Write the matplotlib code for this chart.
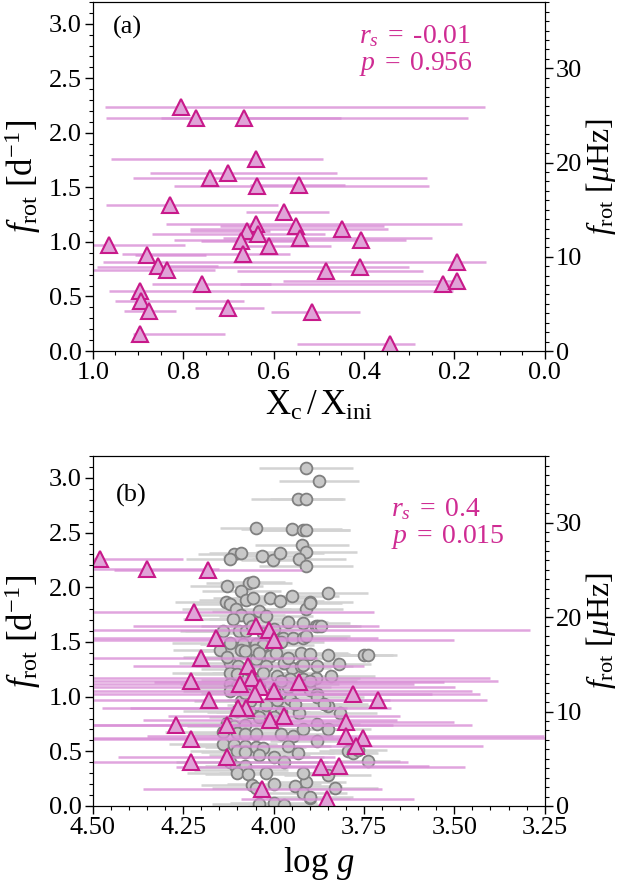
import numpy as np
import matplotlib.pyplot as plt
from matplotlib.ticker import MultipleLocator

plt.rcParams['font.family'] = 'Liberation Serif'
plt.rcParams['mathtext.fontset'] = 'custom'
plt.rcParams['mathtext.rm'] = 'Liberation Serif'
plt.rcParams['mathtext.it'] = 'Liberation Serif:italic'
plt.rcParams['mathtext.bf'] = 'Liberation Serif:bold'

DUHZ = 1e6 / 86400.  # d^-1 -> muHz

# ---- panel (a): Xc/Xini vs f_rot (stars) ----
xc = [0.804, 0.771, 0.666, 0.638, 0.700, 0.741, 0.637, 0.544, 0.830, 0.576,
      0.638, 0.551, 0.448, 0.658, 0.634, 0.542, 0.406, 0.673, 0.964, 0.610,
      0.880, 0.667, 0.855, 0.836, 0.194, 0.483, 0.409, 0.758, 0.225, 0.195,
      0.896, 0.894, 0.876, 0.702, 0.514, 0.896, 0.343]
frot_a = [2.236, 2.14, 2.14, 1.76, 1.63, 1.59, 1.51, 1.52, 1.34, 1.27,
          1.16, 1.145, 1.12, 1.10, 1.07, 1.04, 1.015, 1.01, 0.973, 0.963,
          0.88, 0.888, 0.78, 0.745, 0.82, 0.736, 0.773, 0.615, 0.615, 0.64,
          0.548, 0.457, 0.366, 0.397, 0.357, 0.155, 0.064]
# ends of the error intervals (higher Xc, lower Xc)
xc_hi = [0.973, 0.970, 0.85, 0.959, 0.874, 0.911, 0.82, 0.653, 0.970, 0.661,
         0.838, 0.719, 0.785, 0.785, 0.870, 0.712, 0.82, 0.76, 1.00, 0.664,
         0.906, 0.936, 0.870, 1.00, 0.978, 0.681, 0.99, 0.87, 0.675, 0.58,
         0.964, 0.95, 0.93, 0.774, 0.606, 0.911, 0.549]
xc_lo = [0.133, 0.170, 0.45, 0.491, 0.459, 0.26, 0.257, 0.442, 0.591, 0.477,
         0.184, 0.356, 0.347, 0.607, 0.487, 0.25, 0.306, 0.55, 0.796, 0.474,
         0.75, 0.563, 0.723, 0.73, 0.13, 0.269, 0.30, 0.605, 0.21, 0.19,
         0.204, 0.665, 0.815, 0.622, 0.408, 0.708, 0.286]

# ---- panel (b): log g vs f_rot ----
logg_star = [4.481, 4.35, 4.181, 4.221, 4.049, 4.012, 4.0, 4.16, 4.2, 4.07,
             4.06, 4.229, 4.092, 4.038, 3.93, 4.0, 4.052, 3.78, 3.711, 4.178,
             4.075, 4.098, 4.01, 3.971, 3.801, 4.269, 4.13, 3.801, 3.753, 4.229,
             3.771, 4.13, 4.229, 3.87, 3.82, 4.031, 3.851]
frot_b = [2.26, 2.17, 2.155, 1.77, 1.645, 1.61, 1.52, 1.54, 1.35, 1.28,
          1.17, 1.147, 1.12, 1.09, 1.13, 1.05, 1.02, 1.02, 0.97, 0.97,
          0.896, 0.896, 0.79, 0.82, 0.765, 0.74, 0.74, 0.636, 0.62, 0.61,
          0.545, 0.45, 0.40, 0.355, 0.37, 0.153, 0.06]
logg_star_err = [0.23, 0.20, 0.26, 0.50, 0.34, 0.72, 0.50, 0.45, 0.32, 0.32,
                 0.66, 0.85, 0.48, 0.54, 0.40, 0.55, 0.49, 0.35, 0.30, 0.50,
                 0.40, 0.30, 0.35, 0.32, 0.30, 0.60, 0.68, 0.55, 0.80, 0.45,
                 0.35, 0.30, 0.60, 0.40, 0.25, 0.33, 0.24]

# comparison sample (grey)
logg_ref = [3.909, 3.874, 3.932, 3.909, 4.049, 3.95, 3.92, 3.91, 3.921, 3.909,
            4.11, 4.089, 4.121, 4.031, 4.001, 3.981, 3.93, 3.909,
            4.13, 4.068, 4.058, 4.089, 3.95, 4.01, 3.981, 4.132, 4.121, 4.075,
            4.057, 3.90, 3.909, 4.04, 4.103, 4.089, 4.112, 4.068, 3.918, 3.882,
            4.14, 4.095, 4.075, 4.03, 3.974, 3.946, 3.918, 4.121, 4.084, 4.049,
            4.029, 4.149, 4.089, 4.052, 4.01, 3.992, 3.923, 4.121, 4.098, 4.02,
            3.95, 3.923, 4.12, 4.10, 4.03, 3.99, 3.955, 3.918, 3.849, 3.90,
            3.877, 3.868, 3.91, 3.849, 3.75, 3.739, 3.918, 3.882, 3.84, 4.06,
            4.00, 3.96, 4.02, 3.98, 4.05, 4.13, 4.07, 3.97,
            4.12, 4.10, 4.06, 4.04, 4.09, 4.065, 3.99, 3.955, 4.10, 4.065,
            4.03, 3.98, 3.93, 4.04, 4.00, 4.13, 4.11, 4.08, 3.98, 3.945,
            4.14, 4.10, 4.08, 4.05, 4.14, 4.11, 4.08, 4.05, 4.03, 4.10,
            4.08, 4.04, 3.932, 4.12, 4.105, 4.09, 4.08, 4.10, 4.07, 4.02,
            3.909, 4.06, 4.05, 3.94, 3.918, 3.90, 4.04, 4.00, 3.97, 3.90,
            3.88, 3.88, 3.849, 3.815, 3.88, 3.88, 3.794, 3.78, 3.766, 3.739,
            3.83, 3.90, 4.08, 4.04, 3.96, 3.90, 4.12, 4.08, 4.00, 3.96,
            3.93, 3.90, 3.86, 3.94, 4.02, 4.06, 3.98, 3.88, 3.82, 3.85,
            3.92, 3.96, 4.00, 3.97, 3.92, 3.85, 4.00]
frot_ref = [3.095, 2.97, 2.81, 2.81, 2.54, 2.53, 2.52, 2.52, 2.39, 2.32,
            2.30, 2.31, 2.26, 2.29, 2.25, 2.31, 2.26, 2.19,
            2.01, 2.04, 2.05, 1.97, 1.92, 1.90, 1.87, 1.865, 1.85, 1.88,
            1.90, 1.865, 1.80, 1.78, 1.80, 1.75, 1.71, 1.71, 1.675, 1.645,
            1.60, 1.60, 1.60, 1.585, 1.54, 1.54, 1.54, 1.49, 1.48, 1.48,
            1.47, 1.43, 1.43, 1.43, 1.37, 1.40, 1.40, 1.31, 1.28, 1.28,
            1.26, 1.28, 1.22, 1.21, 1.22, 1.19, 1.16, 1.16, 1.945, 1.86,
            1.645, 1.645, 1.55, 1.385, 1.385, 1.385, 1.29, 1.17, 1.186, 1.65,
            1.62, 1.68, 1.74, 1.50, 1.34, 1.36, 1.25, 1.31,
            1.12, 1.10, 1.08, 1.10, 0.96, 0.96, 0.97, 0.98, 0.87, 0.86,
            0.86, 0.86, 0.85, 0.81, 0.81, 0.76, 0.73, 0.74, 0.66, 0.64,
            0.68, 0.67, 0.66, 0.66, 0.57, 0.56, 0.55, 0.54, 0.53, 0.50,
            0.49, 0.47, 0.48, 0.40, 0.36, 0.33, 0.37, 0.30, 0.29, 0.30,
            0.217, 0.19, 0.16, 0.18, 0.12, 0.07, 0.02, 0.03, 0.01, 1.06,
            1.02, 1.00, 0.91, 0.85, 0.75, 0.59, 0.50, 0.48, 0.51, 0.41,
            0.16, 0.085, 1.42, 1.40, 1.35, 1.39, 1.05, 1.03, 1.05, 1.09,
            1.12, 1.14, 0.93, 0.93, 0.92, 1.15, 1.14, 1.28, 1.30, 0.70,
            0.70, 0.55, 0.45, 0.40, 0.30, 0.28, 0.20]
logg_ref_err = [0.13, 0.11, 0.13, 0.10, 0.10, 0.14, 0.13, 0.12, 0.13, 0.14,
                0.10, 0.09, 0.12, 0.11, 0.09, 0.12, 0.13, 0.13,
                0.10, 0.12, 0.09, 0.11, 0.13, 0.10, 0.12, 0.14, 0.10, 0.13,
                0.11, 0.12, 0.10, 0.13, 0.15, 0.12, 0.14, 0.11, 0.13, 0.10,
                0.12, 0.15, 0.10, 0.13, 0.11, 0.14, 0.12, 0.16, 0.12, 0.10,
                0.14, 0.13, 0.11, 0.15, 0.12, 0.10, 0.13, 0.14, 0.12, 0.15,
                0.11, 0.13, 0.16, 0.12, 0.14, 0.11, 0.13, 0.10, 0.11, 0.09,
                0.12, 0.10, 0.12, 0.13, 0.09, 0.07, 0.10, 0.12, 0.12, 0.14,
                0.12, 0.11, 0.13, 0.12, 0.15, 0.12, 0.13, 0.14,
                0.14, 0.12, 0.15, 0.11, 0.13, 0.12, 0.14, 0.10, 0.15, 0.12,
                0.13, 0.11, 0.12, 0.14, 0.12, 0.15, 0.13, 0.12, 0.14, 0.11,
                0.16, 0.12, 0.14, 0.13, 0.15, 0.12, 0.13, 0.14, 0.11, 0.13,
                0.12, 0.14, 0.10, 0.15, 0.12, 0.13, 0.11, 0.14, 0.12, 0.13,
                0.11, 0.14, 0.12, 0.13, 0.12, 0.11, 0.13, 0.12, 0.10, 0.12,
                0.11, 0.13, 0.12, 0.10, 0.12, 0.13, 0.08, 0.07, 0.08, 0.09,
                0.12, 0.12, 0.13, 0.12, 0.14, 0.11, 0.13, 0.12, 0.14, 0.12,
                0.11, 0.13, 0.12, 0.13, 0.11, 0.14, 0.12, 0.10, 0.09, 0.12,
                0.13, 0.12, 0.14, 0.12, 0.11, 0.12, 0.13]

stat_a = r"$r_s\;=\;$-0.01" + "\n" + r"$p\;=\;$0.956"
stat_b = r"$r_s\;=\;$0.4" + "\n" + r"$p\;=\;$0.015"

tri_face = '#e0a3d8'
tri_edge = '#c8198a'
bar_col = '#d98fd6'
txt_col = '#cf2c93'

fig = plt.figure(figsize=(6.19, 8.86), dpi=100)
ax_a = fig.add_axes([0.150, 0.6038, 0.730, 0.394])
ax_b = fig.add_axes([0.150, 0.0903, 0.730, 0.395])


def style_axes(ax):
    ax.set_ylim(0, 3.2)
    ax.yaxis.set_major_locator(MultipleLocator(0.5))
    ax.yaxis.set_minor_locator(MultipleLocator(0.1))
    ax.tick_params(which='both', direction='out', top=False, right=False, labelsize=19)
    ax.tick_params(which='major', length=6, width=1, pad=2)
    ax.tick_params(which='minor', length=3, width=0.8)
    ax.set_ylabel(r"$f_{\rm rot}$ [d$^{-1}$]", fontsize=25, labelpad=4)
    ax2 = ax.twinx()
    ax2.set_ylim(0, 3.2 * DUHZ)
    ax2.yaxis.set_major_locator(MultipleLocator(10))
    ax2.yaxis.set_minor_locator(MultipleLocator(1))
    ax2.tick_params(which='both', direction='out', labelsize=19)
    ax2.tick_params(which='major', length=6, width=1, pad=2)
    ax2.tick_params(which='minor', length=3, width=0.8)
    ax2.set_ylabel(r"$f_{\rm rot}$ [$\mu$Hz]", fontsize=23, labelpad=1)


# panel (a)
xc = np.array(xc)
err_a = [xc - np.array(xc_lo), np.array(xc_hi) - xc]
ax_a.errorbar(xc, frot_a, xerr=err_a, fmt='none', ecolor=bar_col, elinewidth=1.8,
              alpha=0.8, zorder=2)
ax_a.plot(xc, frot_a, '^', ms=12, mfc=tri_face, mec=tri_edge, mew=1.5, ls='', zorder=3)
ax_a.set_xlim(1.0, 0.0)
ax_a.xaxis.set_major_locator(MultipleLocator(0.2))
ax_a.xaxis.set_minor_locator(MultipleLocator(0.05))
style_axes(ax_a)
ax_a.set_xlabel(r"X$_{\rm c}\,/\,$X$_{\rm ini}$", fontsize=25, labelpad=4)
ax_a.text(0.045, 0.96, "(a)", transform=ax_a.transAxes, fontsize=19, va='top')
ax_a.text(0.59, 0.94, stat_a, transform=ax_a.transAxes, fontsize=20, va='top',
          color=txt_col, linespacing=1.05)

# panel (b)
ax_b.errorbar(logg_ref, frot_ref, xerr=logg_ref_err, fmt='none', ecolor='#d3d3d3',
              elinewidth=1.8, zorder=1)
ax_b.plot(logg_ref, frot_ref, 'o', ms=8.5, mfc='#c8c8c8', mec='#808080', mew=1.3,
          ls='', zorder=2)
ax_b.errorbar(logg_star, frot_b, xerr=logg_star_err, fmt='none', ecolor=bar_col,
              elinewidth=1.8, alpha=0.8, zorder=3)
ax_b.plot(logg_star, frot_b, '^', ms=12, mfc=tri_face, mec=tri_edge, mew=1.5, ls='', zorder=4)
ax_b.set_xlim(4.5, 3.25)
ax_b.xaxis.set_major_locator(MultipleLocator(0.25))
ax_b.xaxis.set_minor_locator(MultipleLocator(0.05))
ax_b.xaxis.set_major_formatter(plt.FormatStrFormatter('%.2f'))
style_axes(ax_b)
ax_b.set_xlabel(r"log $g$", fontsize=25, labelpad=4)
ax_b.text(0.05, 0.92, "(b)", transform=ax_b.transAxes, fontsize=19, va='top')
ax_b.text(0.66, 0.885, stat_b, transform=ax_b.transAxes, fontsize=20, va='top',
          color=txt_col, linespacing=1.05)

fig.savefig("out.png", dpi=100)
